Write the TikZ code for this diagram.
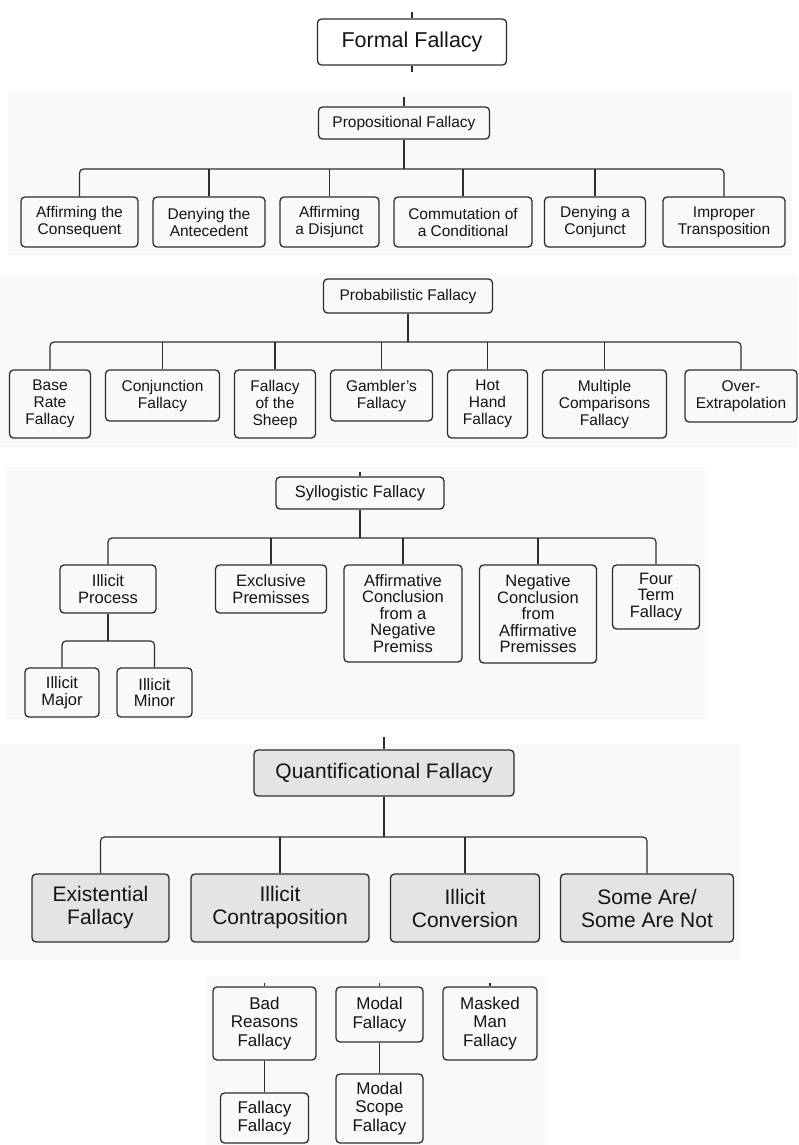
\documentclass[tikz,border=0pt]{standalone}
\usepackage{fontspec}
\setmainfont{Liberation Sans}
\usepackage{tikz}
\definecolor{linec}{RGB}{45,45,45}
\definecolor{textc}{RGB}{20,20,20}
\definecolor{qfill}{RGB}{228,228,228}
\definecolor{band}{RGB}{249,249,249}

\begin{document}
\begin{tikzpicture}[x=1pt, y=-1pt,
  box/.style={draw=linec, line width=1.3pt, rounded corners=4pt, align=center, inner sep=0pt, text=textc},
  qbox/.style={box, fill=qfill},
  wire/.style={linec, line width=1.2pt},
  fsmall/.style={font=\fontsize{15.5}{17}\selectfont},
  fmid/.style={font=\fontsize{16.5}{16.5}\selectfont},
  flow/.style={font=\fontsize{17}{18.3}\selectfont},
  fbig/.style={font=\fontsize{21}{23}\selectfont}]
\useasboundingbox (0,0) rectangle (798,1145);
\fill[band] (8,92) rectangle (792,255);
\fill[band] (0,274) rectangle (798,447);
\fill[band] (5,467) rectangle (705,719);
\fill[band] (0,744) rectangle (740,960);
\fill[band] (205,976) rectangle (545,1145);

\node[box, font=\fontsize{21.5}{23}\selectfont, minimum width=189pt, minimum height=46pt] (ff) at (412,42) {Formal Fallacy};
\coordinate (fftop) at (412,12);
\coordinate (ffbot) at (412,72);
\draw[wire] (fftop) -- (ff.north);
\draw[wire] (ff.south) -- (ffbot);

\node[box, fsmall, minimum width=171pt, minimum height=32pt] (pf) at (404,123) {Propositional Fallacy};
\coordinate (pftop) at (404,97);
\coordinate (pbus) at (404,169);
\node[box, fsmall, minimum width=117pt, minimum height=50pt] (ac) at (79.5,222) {Affirming the\\Consequent};
\node[box, fsmall, minimum width=112pt, minimum height=50pt] (dta) at (209,222) {Denying the\\Antecedent};
\node[box, fsmall, minimum width=99pt, minimum height=50pt] (ad) at (329.5,222) {Affirming\\a Disjunct};
\node[box, fsmall, minimum width=138pt, minimum height=50pt] (cc) at (463,222) {Commutation of\\a Conditional};
\node[box, fsmall, minimum width=101pt, minimum height=50pt] (dc) at (595,222) {Denying a\\Conjunct};
\node[box, fsmall, minimum width=122pt, minimum height=50pt] (itr) at (724,222) {Improper\\Transposition};
\draw[wire] (pftop) -- (pf.north);
\draw[wire] (pf.south) -- (pbus);
\draw[wire, rounded corners=4pt] (ac.north) |- (pbus) -| (itr.north);
\draw[wire] (dta.north) -- (dta.north |- pbus);
\draw[wire] (ad.north) -- (ad.north |- pbus);
\draw[wire] (cc.north) -- (cc.north |- pbus);
\draw[wire] (dc.north) -- (dc.north |- pbus);

\node[box, fsmall, minimum width=169pt, minimum height=34pt] (pbf) at (408,296) {Probabilistic Fallacy};
\coordinate (qbus) at (408,342);
\node[box, fsmall, minimum width=81pt, minimum height=68pt] (brf) at (50,404) {Base\\Rate\\Fallacy};
\node[box, fsmall, minimum width=114pt, minimum height=51pt] (cjf) at (162.5,395.5) {Conjunction\\Fallacy};
\node[box, fsmall, minimum width=81pt, minimum height=68pt] (fos) at (275,404) {Fallacy\\of the\\Sheep};
\node[box, fsmall, minimum width=102pt, minimum height=51pt] (gf) at (381.5,395.5) {Gambler's\\Fallacy};
\node[box, fsmall, minimum width=80pt, minimum height=68pt] (hhf) at (487.5,404) {Hot\\Hand\\Fallacy};
\node[box, fsmall, minimum width=124pt, minimum height=68pt] (mcf) at (604.5,404) {Multiple\\Comparisons\\Fallacy};
\node[box, fsmall, minimum width=112pt, minimum height=52pt] (oe) at (741,396) {Over-\\Extrapolation};
\draw[wire] (pbf.south) -- (qbus);
\draw[wire, rounded corners=4pt] (brf.north) |- (qbus) -| (oe.north);
\draw[wire] (cjf.north) -- (cjf.north |- qbus);
\draw[wire] (fos.north) -- (fos.north |- qbus);
\draw[wire] (gf.north) -- (gf.north |- qbus);
\draw[wire] (hhf.north) -- (hhf.north |- qbus);
\draw[wire] (mcf.north) -- (mcf.north |- qbus);

\node[box, fmid, minimum width=168pt, minimum height=32pt] (sf) at (360,493) {Syllogistic Fallacy};
\coordinate (sftop) at (360,472);
\coordinate (sbus) at (360,538);
\node[box, fmid, minimum width=96pt, minimum height=48pt] (ip) at (108,589) {Illicit\\Process};
\node[box, fmid, minimum width=111pt, minimum height=48pt] (ep) at (271,589) {Exclusive\\Premisses};
\node[box, fmid, minimum width=118pt, minimum height=97pt] (acnp) at (403,613.5) {Affirmative\\Conclusion\\from a\\Negative\\Premiss};
\node[box, fmid, minimum width=117pt, minimum height=98pt] (ncap) at (538,614) {Negative\\Conclusion\\from\\Affirmative\\Premisses};
\node[box, fmid, minimum width=87pt, minimum height=64pt] (ftf) at (656,597) {Four\\Term\\Fallacy};
\draw[wire] (sftop) -- (sf.north);
\draw[wire] (sf.south) -- (sbus);
\draw[wire, rounded corners=4pt] (ip.north) |- (sbus) -| (ftf.north);
\draw[wire] (ep.north) -- (ep.north |- sbus);
\draw[wire] (acnp.north) -- (acnp.north |- sbus);
\draw[wire] (ncap.north) -- (ncap.north |- sbus);
\coordinate (ipbus) at (108,641);
\node[box, fmid, minimum width=74pt, minimum height=49pt] (imaj) at (62,692.5) {Illicit\\Major};
\node[box, fmid, minimum width=75pt, minimum height=49pt] (imin) at (154.5,692.5) {Illicit\\Minor};
\draw[wire] (ip.south) -- (ipbus);
\draw[wire, rounded corners=4pt] (imaj.north) |- (ipbus) -| (imin.north);

\node[qbox, fbig, minimum width=260pt, minimum height=46pt] (qf) at (384,773) {Quantificational Fallacy};
\coordinate (qftop) at (384,737);
\coordinate (xbus) at (384,837);
\node[qbox, fbig, minimum width=137pt, minimum height=68pt] (ef) at (100.5,908) {Existential\\Fallacy};
\node[qbox, fbig, minimum width=178pt, minimum height=68pt] (ic) at (280,908) {Illicit\\Contraposition};
\node[qbox, fbig, minimum width=149pt, minimum height=68pt] (icv) at (465,908) {Illicit\\Conversion};
\node[qbox, fbig, minimum width=173pt, minimum height=68pt] (sa) at (647,908) {Some Are/\\Some Are Not};
\draw[wire] (qftop) -- (qf.north);
\draw[wire] (qf.south) -- (xbus);
\draw[wire, rounded corners=4pt] (ef.north) |- (xbus) -| (sa.north);
\draw[wire] (ic.north) -- (ic.north |- xbus);
\draw[wire] (icv.north) -- (icv.north |- xbus);

\node[box, flow, minimum width=103pt, minimum height=73pt] (brsn) at (264.5,1023.5) {Bad\\Reasons\\Fallacy};
\node[box, flow, minimum width=88pt, minimum height=50pt] (fafa) at (264.5,1118) {Fallacy\\Fallacy};
\node[box, flow, minimum width=87pt, minimum height=55pt] (mf) at (379.5,1014.5) {Modal\\Fallacy};
\node[box, flow, minimum width=87pt, minimum height=69pt] (msf) at (379.5,1108.5) {Modal\\Scope\\Fallacy};
\node[box, flow, minimum width=94pt, minimum height=73pt] (mmf) at (490,1023.5) {Masked\\Man\\Fallacy};
\coordinate (brtop) at (264.5,983);
\coordinate (mftop) at (379.5,983);
\coordinate (mmtop) at (490,983);
\draw[wire] (brtop) -- (brsn.north);
\draw[wire] (mftop) -- (mf.north);
\draw[wire] (mmtop) -- (mmf.north);
\draw[wire] (brsn.south) -- (fafa.north);
\draw[wire] (mf.south) -- (msf.north);
\end{tikzpicture}
\end{document}
